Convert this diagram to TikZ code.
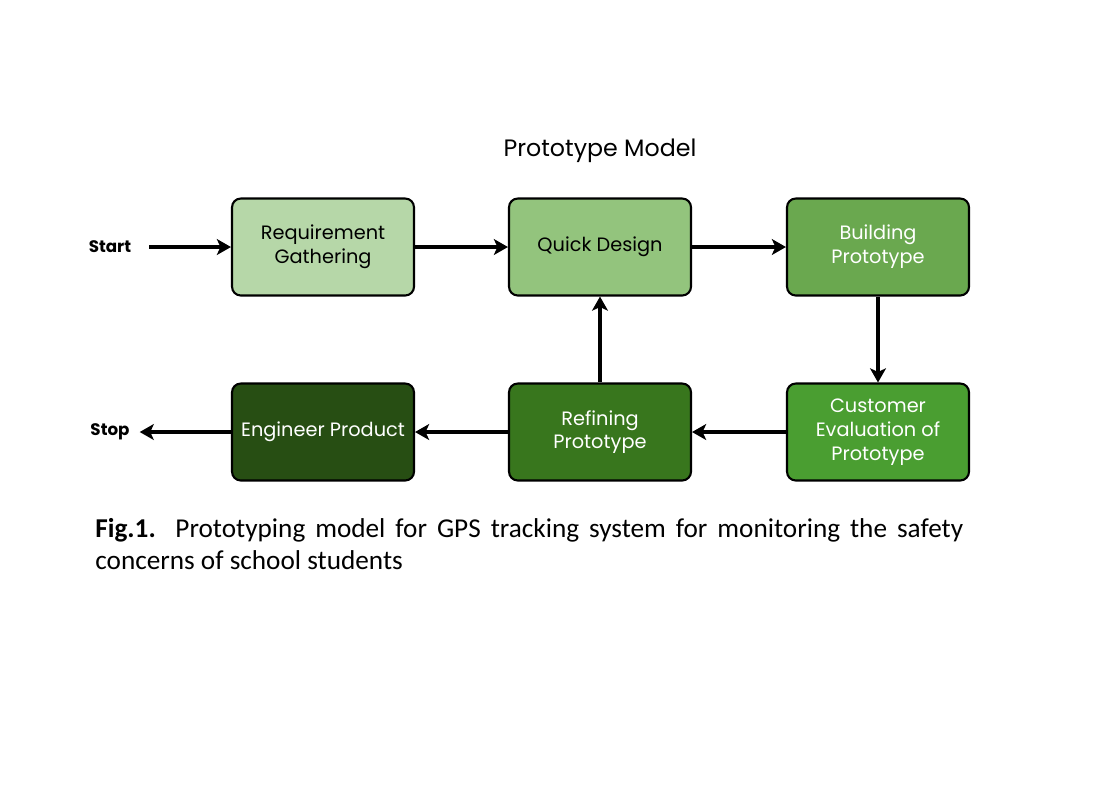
\documentclass[tikz,border=0pt]{standalone}
\usepackage{fontspec}
\setmainfont{Poppins}
\newfontfamily\capfont{Carlito}
\usepackage{tikz}
\usetikzlibrary{calc, positioning, arrows.meta, backgrounds}
\hyphenpenalty=10000
\exhyphenpenalty=10000

\definecolor{gReq}{HTML}{B6D7A8}
\definecolor{gQuick}{HTML}{93C47D}
\definecolor{gBuild}{HTML}{6AA84F}
\definecolor{gCust}{HTML}{4A9E31}
\definecolor{gRefine}{HTML}{38761D}
\definecolor{gEng}{HTML}{274E13}

\begin{document}
\begin{tikzpicture}[x=0.02cm, y=-0.02cm]
  \tikzstyle{stage}=[draw, line width=1.2pt, rounded corners=5pt, minimum width=3.64cm, minimum height=1.94cm, align=center, font=\fontsize{11}{13.5}\selectfont]
  \tikzstyle{flow}=[-{Stealth[length=8pt, width=9pt, inset=2pt]}, line width=1.8pt]

  \useasboundingbox (0,0) rectangle (1112,792);

  \node (title) at (600,151) {\fontsize{13.5}{16}\selectfont Prototype Model};

  \node (req)    [stage, fill=gReq]                 at (323,247) {Requirement\\Gathering};
  \node (quick)  [stage, fill=gQuick]               at (600,247) {Quick Design};
  \node (build)  [stage, fill=gBuild, text=white]   at (878,247) {Building\\Prototype};
  \node (cust)   [stage, fill=gCust, text=white]    at (878,432) {Customer\\Evaluation of\\Prototype};
  \node (refine) [stage, fill=gRefine, text=white]  at (600,432) {Refining\\Prototype};
  \node (eng)    [stage, fill=gEng, text=white]     at (323,432) {Engineer Product};

  \node (start) [font=\bfseries\fontsize{9.5}{11}\selectfont] at (110,247) {Start};
  \node (stop)  [font=\bfseries\fontsize{9.5}{11}\selectfont] at (110,432) {Stop};

  \draw[flow] ($(start.east)+(12,0)$) -- (req.west);
  \draw[flow] (req) -- (quick);
  \draw[flow] (quick) -- (build);
  \draw[flow] (build) -- (cust);
  \draw[flow] (cust) -- (refine);
  \draw[flow] (refine) -- (quick);
  \draw[flow] (refine) -- (eng);
  \draw[flow] (eng.west) -- ($(stop.east)+(4,0)$);

  \node (caption) [anchor=north west, text width=17.36cm, align=justify, inner sep=0pt,
    font=\capfont\fontsize{15.5}{18}\selectfont] at (95,518)
    {\textbf{Fig.1.} Prototyping model for GPS tracking system for monitoring the safety concerns of school students};
\end{tikzpicture}
\end{document}
